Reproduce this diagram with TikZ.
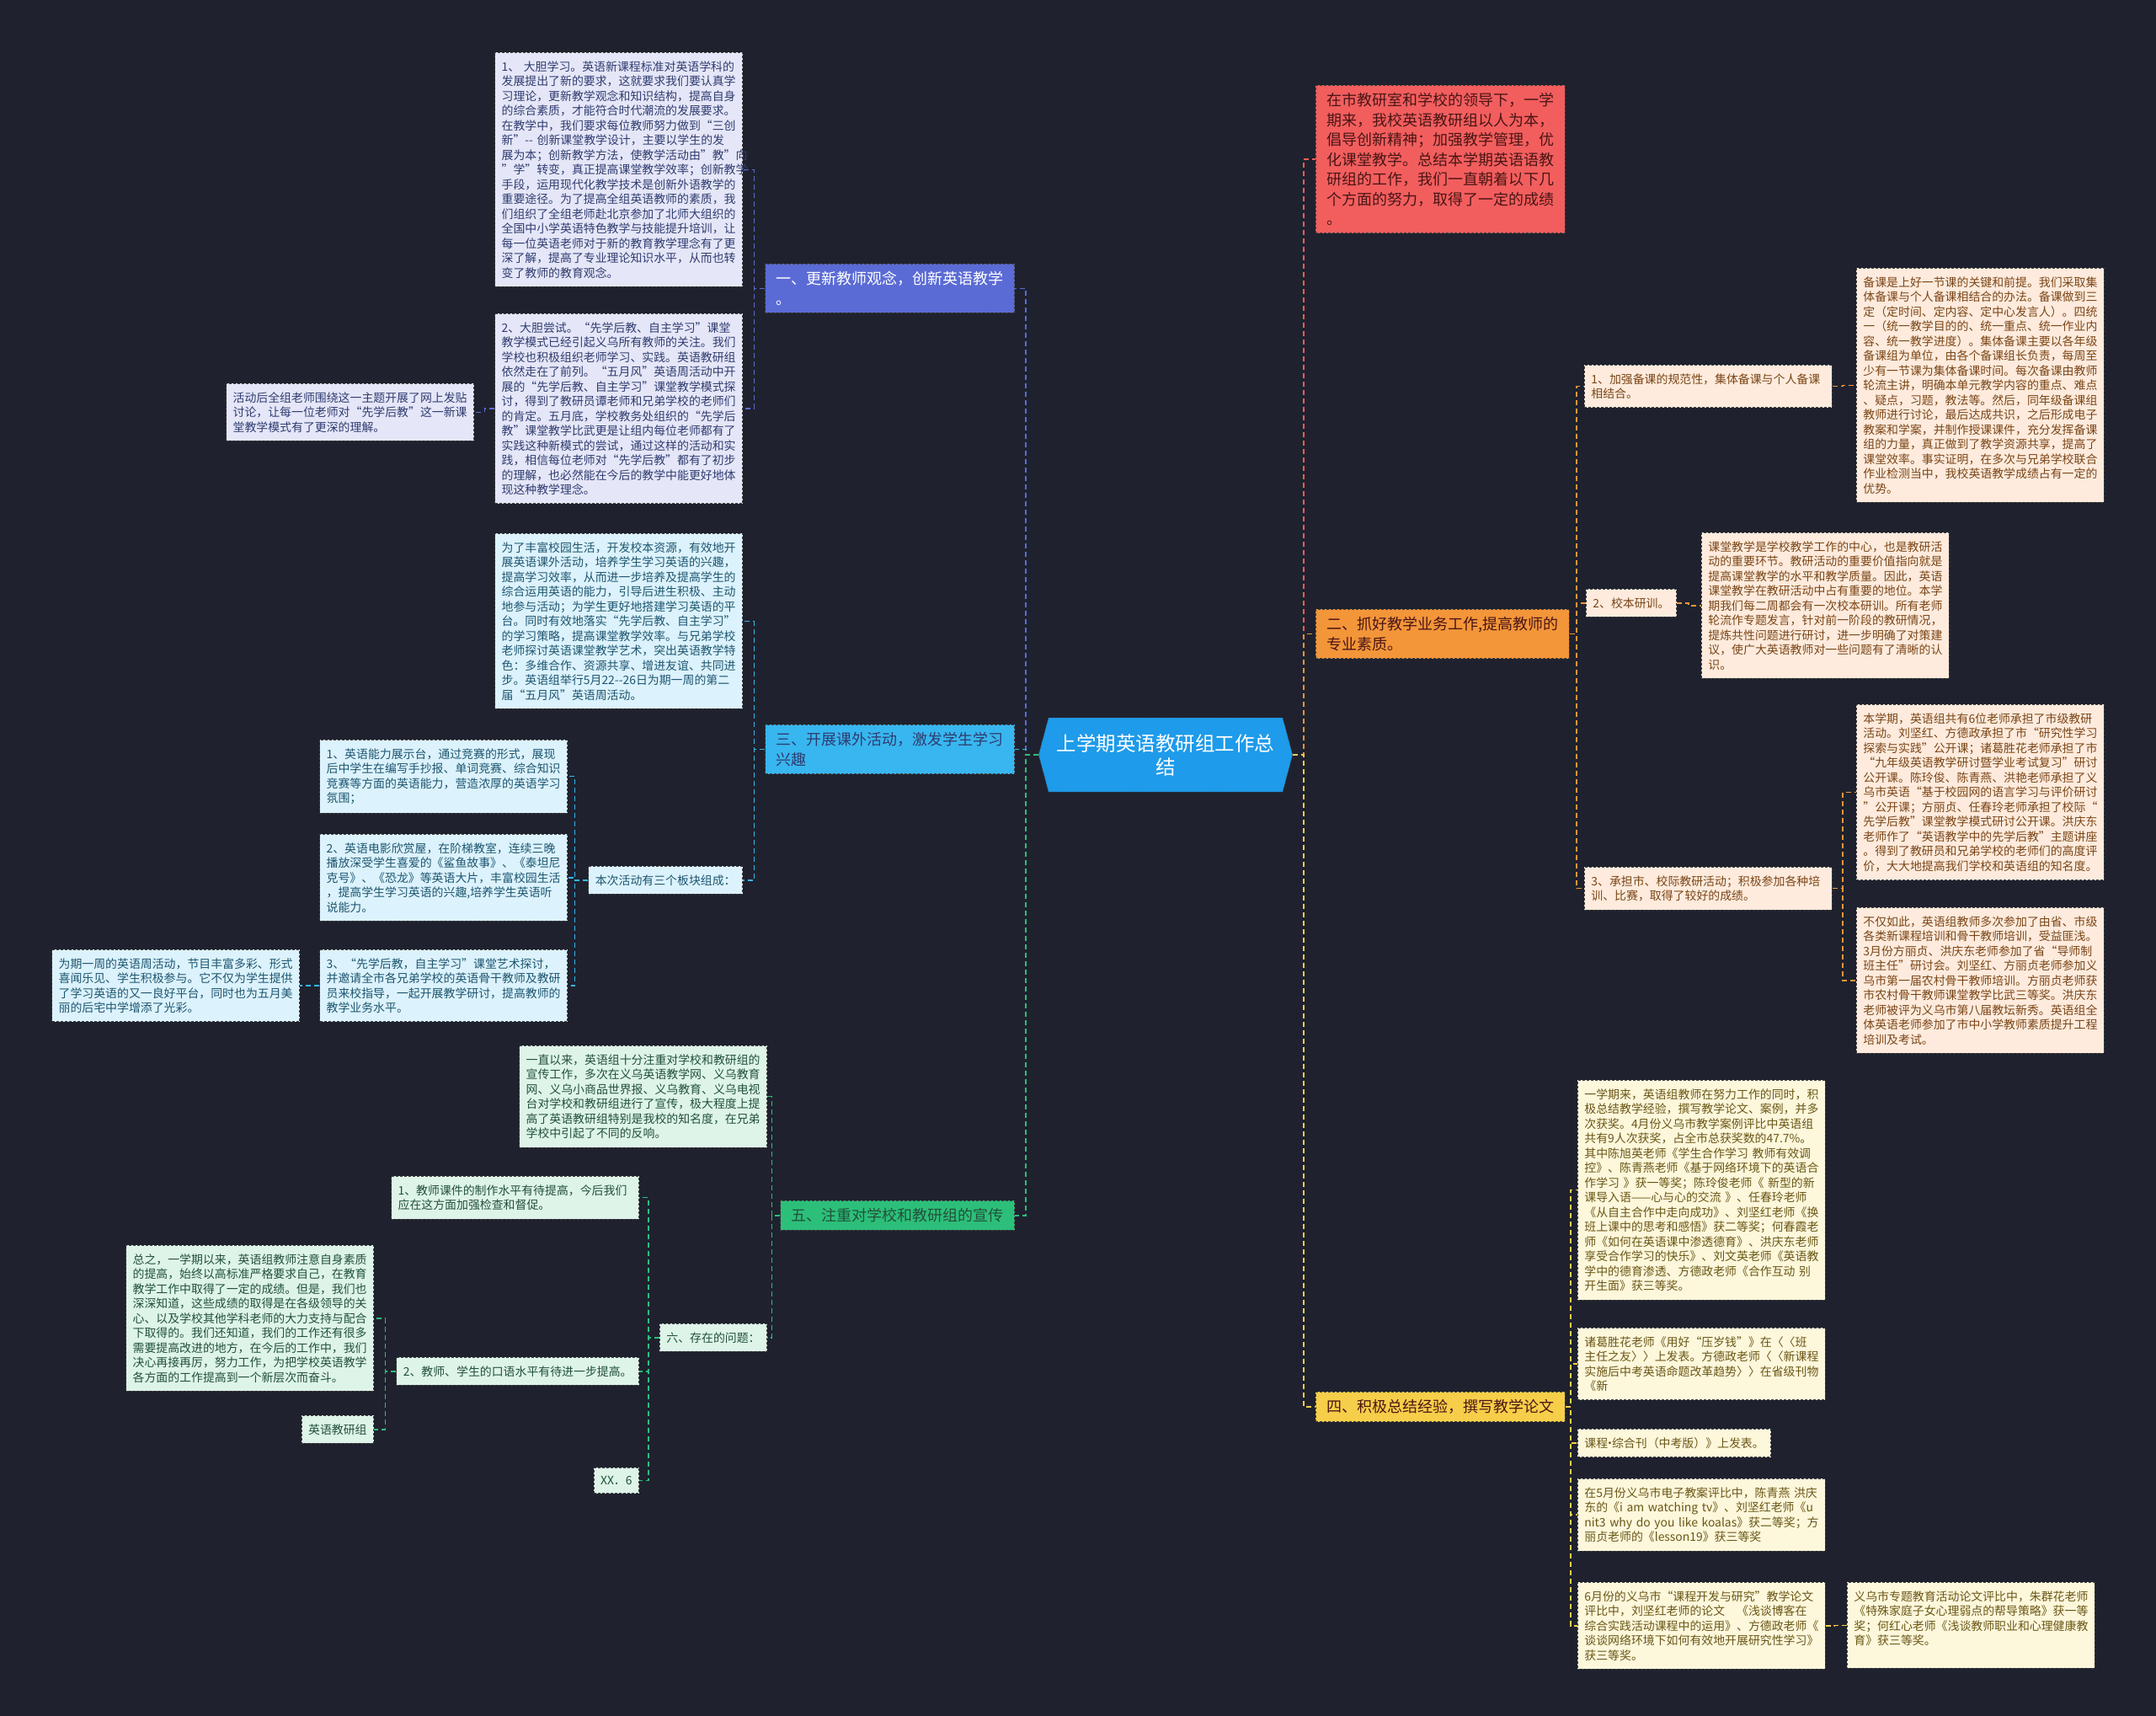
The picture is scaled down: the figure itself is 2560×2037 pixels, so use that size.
\documentclass[tikz,border=0pt]{standalone}
\usepackage{fontspec}
\setmainfont{Noto Sans CJK SC}
\usetikzlibrary{shapes.symbols}

\definecolor{bgdark}{HTML}{1F222E}
\definecolor{cblue}{HTML}{5B6BD5}
\definecolor{afill}{HTML}{E5E6F7}
\definecolor{atext}{HTML}{2F3C70}
\definecolor{ccyan}{HTML}{38B6EF}
\definecolor{bfill}{HTML}{DCF2FC}
\definecolor{btext}{HTML}{1D5670}
\definecolor{cgreen}{HTML}{2CBF7A}
\definecolor{efill}{HTML}{DEF4E9}
\definecolor{etext}{HTML}{22513A}
\definecolor{cred}{HTML}{F25E5E}
\definecolor{rtext}{HTML}{4A1515}
\definecolor{corange}{HTML}{F39539}
\definecolor{hfill}{HTML}{FEEBDD}
\definecolor{htext}{HTML}{7A4516}
\definecolor{cyellow}{HTML}{F7CE49}
\definecolor{jfill}{HTML}{FDF7DC}
\definecolor{jtext}{HTML}{6A5715}
\definecolor{ctrblue}{HTML}{1E9BEA}

\tikzset{
    box/.style={draw=black!75, dash pattern=on 3pt off 2pt, line width=0.8pt, align=left,
        inner xsep=8pt, inner ysep=10pt, font=\fontsize{13.9}{17.5}\selectfont},
    blk/.style={box, text width=278pt},
    br/.style={draw=black!75, dash pattern=on 3pt off 2pt, line width=0.8pt, align=left,
        inner xsep=13pt, inner ysep=9pt, font=\fontsize{18}{23.5}\selectfont},
    lk/.style={line width=1.4pt, dash pattern=on 6pt off 4pt},
    toL/.style={to path={-- ++(-#1,0) |- (\tikztotarget)}},
    toR/.style={to path={-- ++(#1,0) |- (\tikztotarget)}},
    abox/.style={fill=afill, text=atext},
    bbox/.style={fill=bfill, text=btext},
    ebox/.style={fill=efill, text=etext},
    hbox/.style={fill=hfill, text=htext},
    jbox/.style={fill=jfill, text=jtext}
}

\begin{document}
\begin{tikzpicture}[x=1pt, y=-1pt]
                \fill[bgdark] (0,0) rectangle (2560,2037);
                \useasboundingbox (0,0) rectangle (2560,2037);

                \node[signal, signal to=west and east, signal pointer angle=150, fill=ctrblue, draw=black!75,
                    dash pattern=on 3pt off 2pt, text=white, text width=266pt, align=center, inner xsep=6pt,
                    inner ysep=17pt, minimum height=88pt, font=\fontsize{23.5}{28}\selectfont] (ctr) at (1384,896)
                    {上学期英语教研组工作总\\结};

                \node[br, fill=cblue, text=white, anchor=north east] (br1) at (1205,313)
                    {一、更新教师观念，创新英语教学\\。};
                \node[br, fill=ccyan, text=atext, anchor=north east] (br3) at (1205,860)
                    {三、开展课外活动，激发学生学习\\兴趣};
                \node[br, fill=cgreen, text=etext, anchor=north east] (br5) at (1205,1425)
                    {五、注重对学校和教研组的宣传};
                \node[br, fill=cred, text=rtext, anchor=north west] (intro) at (1562,101)
                    {在市教研室和学校的领导下，一学\\期来，我校英语教研组以人为本，\\倡导创新精神；加强教学管理，优\\化课堂教学。总结本学期英语语教\\研组的工作，我们一直朝着以下几\\个方面的努力，取得了一定的成绩\\。};
                \node[br, fill=corange, text=rtext, anchor=north west] (br2) at (1562,723)
                    {二、抓好教学业务工作,提高教师的\\专业素质。};
                \node[br, fill=cyellow, text=rtext, anchor=north west] (br4) at (1562,1652)
                    {四、积极总结经验，撰写教学论文};

                \node[blk, abox, anchor=north east] (a1) at (882,62)
                    {1、 大胆学习。英语新课程标准对英语学科的\\发展提出了新的要求，这就要求我们要认真学\\习理论，更新教学观念和知识结构，提高自身\\的综合素质，才能符合时代潮流的发展要求。\\在教学中，我们要求每位教师努力做到“三创\\新”{-}{-} 创新课堂教学设计，主要以学生的发\\展为本；创新教学方法，使教学活动由"教"向\\"学"转变，真正提高课堂教学效率；创新教学\\手段，运用现代化教学技术是创新外语教学的\\重要途径。为了提高全组英语教师的素质，我\\们组织了全组老师赴北京参加了北师大组织的\\全国中小学英语特色教学与技能提升培训，让\\每一位英语老师对于新的教育教学理念有了更\\深了解，提高了专业理论知识水平，从而也转\\变了教师的教育观念。};
                \node[blk, abox, anchor=north east] (a2) at (882,372)
                    {2、大胆尝试。“先学后教、自主学习”课堂\\教学模式已经引起义乌所有教师的关注。我们\\学校也积极组织老师学习、实践。英语教研组\\依然走在了前列。“五月风”英语周活动中开\\展的“先学后教、自主学习”课堂教学模式探\\讨，得到了教研员谭老师和兄弟学校的老师们\\的肯定。五月底，学校教务处组织的“先学后\\教”课堂教学比武更是让组内每位老师都有了\\实践这种新模式的尝试，通过这样的活动和实\\践，相信每位老师对“先学后教”都有了初步\\的理解，也必然能在今后的教学中能更好地体\\现这种教学理念。};
                \node[blk, abox, anchor=north east] (a2n) at (563,455)
                    {活动后全组老师围绕这一主题开展了网上发贴\\讨论，让每一位老师对“先学后教”这一新课\\堂教学模式有了更深的理解。};

                \node[blk, bbox, anchor=north east] (b1) at (882,633)
                    {为了丰富校园生活，开发校本资源，有效地开\\展英语课外活动，培养学生学习英语的兴趣，\\提高学习效率，从而进一步培养及提高学生的\\综合运用英语的能力，引导后进生积极、主动\\地参与活动；为学生更好地搭建学习英语的平\\台。同时有效地落实“先学后教、自主学习”\\的学习策略，提高课堂教学效率。与兄弟学校\\老师探讨英语课堂教学艺术，突出英语教学特\\色：多维合作、资源共享、增进友谊、共同进\\步。英语组举行5月22{-}{-}26日为期一周的第二\\届“五月风”英语周活动。};
                \node[box, bbox, anchor=north east] (b2) at (882,1028)
                    {本次活动有三个板块组成：};
                \node[blk, bbox, anchor=north east] (c1) at (674,878)
                    {1、英语能力展示台，通过竞赛的形式，展现\\后中学生在编写手抄报、单词竞赛、综合知识\\竞赛等方面的英语能力，营造浓厚的英语学习\\氛围；};
                \node[blk, bbox, anchor=north east] (c2) at (674,990)
                    {2、英语电影欣赏屋，在阶梯教室，连续三晚\\播放深受学生喜爱的《鲨鱼故事》、《泰坦尼\\克号》、《恐龙》等英语大片，丰富校园生活\\，提高学生学习英语的兴趣,培养学生英语听\\说能力。};
                \node[blk, bbox, anchor=north east] (c3) at (674,1127)
                    {3、“先学后教，自主学习”课堂艺术探讨，\\并邀请全市各兄弟学校的英语骨干教师及教研\\员来校指导，一起开展教学研讨，提高教师的\\教学业务水平。};
                \node[blk, bbox, anchor=north east] (c3n) at (356,1127)
                    {为期一周的英语周活动，节目丰富多彩、形式\\喜闻乐见、学生积极参与。它不仅为学生提供\\了学习英语的又一良好平台，同时也为五月美\\丽的后宅中学增添了光彩。};

                \node[blk, ebox, anchor=north east] (e1) at (911,1241)
                    {一直以来，英语组十分注重对学校和教研组的\\宣传工作，多次在义乌英语教学网、义乌教育\\网、义乌小商品世界报、义乌教育、义乌电视\\台对学校和教研组进行了宣传，极大程度上提\\高了英语教研组特别是我校的知名度，在兄弟\\学校中引起了不同的反响。};
                \node[box, ebox, anchor=north east] (e2) at (911,1571)
                    {六、存在的问题：};
                \node[blk, ebox, anchor=north east] (f1) at (759,1396)
                    {1、教师课件的制作水平有待提高，今后我们\\应在这方面加强检查和督促。};
                \node[box, ebox, anchor=north east] (f2) at (759,1611)
                    {2、教师、学生的口语水平有待进一步提高。};
                \node[box, ebox, anchor=north east] (f3) at (759,1742)
                    {XX．6};
                \node[blk, ebox, anchor=north east] (g1) at (444,1478)
                    {总之，一学期以来，英语组教师注意自身素质\\的提高，始终以高标准严格要求自己，在教育\\教学工作中取得了一定的成绩。但是，我们也\\深深知道，这些成绩的取得是在各级领导的关\\心、以及学校其他学科老师的大力支持与配合\\下取得的。我们还知道，我们的工作还有很多\\需要提高改进的地方，在今后的工作中，我们\\决心再接再厉，努力工作，为把学校英语教学\\各方面的工作提高到一个新层次而奋斗。};
                \node[box, ebox, anchor=north east] (g2) at (444,1680)
                    {英语教研组};

                \node[blk, hbox, anchor=north west] (h1) at (1881,433)
                    {1、加强备课的规范性，集体备课与个人备课\\相结合。};
                \node[blk, hbox, anchor=north west] (h1n) at (2204,318)
                    {备课是上好一节课的关键和前提。我们采取集\\体备课与个人备课相结合的办法。备课做到三\\定（定时间、定内容、定中心发言人）。四统\\一（统一教学目的的、统一重点、统一作业内\\容、统一教学进度）。集体备课主要以各年级\\备课组为单位，由各个备课组长负责，每周至\\少有一节课为集体备课时间。每次备课由教师\\轮流主讲，明确本单元教学内容的重点、难点\\、疑点，习题，教法等。然后，同年级备课组\\教师进行讨论，最后达成共识，之后形成电子\\教案和学案，并制作授课课件，充分发挥备课\\组的力量，真正做到了教学资源共享，提高了\\课堂效率。事实证明，在多次与兄弟学校联合\\作业检测当中，我校英语教学成绩占有一定的\\优势。};
                \node[box, hbox, anchor=north west] (h2) at (1883,699)
                    {2、校本研训。};
                \node[blk, hbox, anchor=north west] (h2n) at (2020,632)
                    {课堂教学是学校教学工作的中心，也是教研活\\动的重要环节。教研活动的重要价值指向就是\\提高课堂教学的水平和教学质量。因此，英语\\课堂教学在教研活动中占有重要的地位。本学\\期我们每二周都会有一次校本研训。所有老师\\轮流作专题发言，针对前一阶段的教研情况，\\提炼共性问题进行研讨，进一步明确了对策建\\议，使广大英语教师对一些问题有了清晰的认\\识。};
                \node[blk, hbox, anchor=north west] (h3) at (1881,1029)
                    {3、承担市、校际教研活动；积极参加各种培\\训、比赛，取得了较好的成绩。};
                \node[blk, hbox, anchor=north west] (h3a) at (2204,836)
                    {本学期，英语组共有6位老师承担了市级教研\\活动。刘坚红、方德政承担了市“研究性学习\\探索与实践”公开课；诸葛胜花老师承担了市\\“九年级英语教学研讨暨学业考试复习”研讨\\公开课。陈玲俊、陈青燕、洪艳老师承担了义\\乌市英语“基于校园网的语言学习与评价研讨\\”公开课；方丽贞、任春玲老师承担了校际“\\先学后教”课堂教学模式研讨公开课。洪庆东\\老师作了“英语教学中的先学后教”主题讲座\\。得到了教研员和兄弟学校的老师们的高度评\\价，大大地提高我们学校和英语组的知名度。};
                \node[blk, hbox, anchor=north west] (h3b) at (2204,1077)
                    {不仅如此，英语组教师多次参加了由省、市级\\各类新课程培训和骨干教师培训，受益匪浅。\\3月份方丽贞、洪庆东老师参加了省“导师制\\班主任”研讨会。刘坚红、方丽贞老师参加义\\乌市第一届农村骨干教师培训。方丽贞老师获\\市农村骨干教师课堂教学比武三等奖。洪庆东\\老师被评为义乌市第八届教坛新秀。英语组全\\体英语老师参加了市中小学教师素质提升工程\\培训及考试。};

                \node[blk, jbox, anchor=north west] (j1) at (1873,1282)
                    {一学期来，英语组教师在努力工作的同时，积\\极总结教学经验，撰写教学论文、案例，并多\\次获奖。4月份义乌市教学案例评比中英语组\\共有9人次获奖，占全市总获奖数的47.7\%。\\其中陈旭英老师《学生合作学习 教师有效调\\控》、陈青燕老师《基于网络环境下的英语合\\作学习 》获一等奖；陈玲俊老师《 新型的新\\课导入语——心与心的交流 》、任春玲老师\\《从自主合作中走向成功》、刘坚红老师《换\\班上课中的思考和感悟》获二等奖；何春霞老\\师《如何在英语课中渗透德育》、洪庆东老师\\享受合作学习的快乐》、刘文英老师《英语教\\学中的德育渗透、方德政老师《合作互动 别\\开生面》获三等奖。};
                \node[blk, jbox, anchor=north west] (j2) at (1873,1576)
                    {诸葛胜花老师《用好“压岁钱”》在〈〈班\\主任之友〉〉上发表。方德政老师〈〈新课程\\实施后中考英语命题改革趋势〉〉在省级刊物\\《新};
                \node[box, jbox, anchor=north west] (j3) at (1873,1696)
                    {课程\makebox[0.35em]{·}综合刊（中考版）》上发表。};
                \node[blk, jbox, anchor=north west] (j4) at (1873,1755)
                    {\mbox{在5月份义乌市电子教案评比中，陈青燕 洪庆}\\\mbox{东的《i am watching tv》、刘坚红老师《u}\\\mbox{nit3 why do you like koalas》获二等奖；方}\\丽贞老师的《lesson19》获三等奖};
                \node[blk, jbox, anchor=north west] (j5) at (1873,1878)
                    {6月份的义乌市“课程开发与研究”教学论文\\评比中，刘坚红老师的论文　《浅谈博客在\\综合实践活动课程中的运用》、方德政老师《\\谈谈网络环境下如何有效地开展研究性学习》\\获三等奖。};
                \node[blk, jbox, anchor=north west] (j5n) at (2193,1878)
                    {义乌市专题教育活动论文评比中，朱群花老师\\《特殊家庭子女心理弱点的帮导策略》获一等\\奖；何红心老师《浅谈教师职业和心理健康教\\育》获三等奖。\\\mbox{}};

                \draw[lk, cblue] (ctr.west) to[toL=15] (br1.east);
                \draw[lk, ccyan] (ctr.west) to[toL=15] (br3.east);
                \draw[lk, cgreen] (ctr.west) to[toL=15] (br5.east);
                \draw[lk, cred] (ctr.east) to[toR=13] (intro.west);
                \draw[lk, corange] (ctr.east) to[toR=13] (br2.west);
                \draw[lk, cyellow] (ctr.east) to[toR=13] (br4.west);

                \draw[lk, cblue] (br1.west) to[toL=13] (a1.east);
                \draw[lk, cblue] (br1.west) to[toL=13] (a2.east);
                \draw[lk, cblue] (a2.west) to[toL=12] (a2n.east);

                \draw[lk, ccyan] (br3.west) to[toL=13] (b1.east);
                \draw[lk, ccyan] (br3.west) to[toL=13] (b2.east);
                \draw[lk, ccyan] (b2.west) to[toL=16] (c1.east);
                \draw[lk, ccyan] (b2.west) to[toL=16] (c2.east);
                \draw[lk, ccyan] (b2.west) to[toL=16] (c3.east);
                \draw[lk, ccyan] (c3.west) to[toL=12] (c3n.east);

                \draw[lk, cgreen] (br5.west) to[toL=10] (e1.east);
                \draw[lk, cgreen] (br5.west) to[toL=10] (e2.east);
                \draw[lk, cgreen] (e2.west) to[toL=13] (f1.east);
                \draw[lk, cgreen] (e2.west) to[toL=13] (f2.east);
                \draw[lk, cgreen] (e2.west) to[toL=13] (f3.east);
                \draw[lk, cgreen] (f2.west) to[toL=13] (g1.east);
                \draw[lk, cgreen] (f2.west) to[toL=13] (g2.east);

                \draw[lk, corange] (br2.east) to[toR=8] (h1.west);
                \draw[lk, corange] (br2.east) to[toR=8] (h2.west);
                \draw[lk, corange] (br2.east) to[toR=8] (h3.west);
                \draw[lk, corange] (h1.east) to[toR=12] (h1n.west);
                \draw[lk, corange] (h2.east) to[toR=14] (h2n.west);
                \draw[lk, corange] (h3.east) to[toR=12] (h3a.west);
                \draw[lk, corange] (h3.east) to[toR=12] (h3b.west);

                \draw[lk, cyellow] (br4.east) to[toR=6] (j1.west);
                \draw[lk, cyellow] (br4.east) to[toR=6] (j2.west);
                \draw[lk, cyellow] (br4.east) to[toR=6] (j3.west);
                \draw[lk, cyellow] (br4.east) to[toR=6] (j4.west);
                \draw[lk, cyellow] (br4.east) to[toR=6] (j5.west);
                \draw[lk, cyellow] (j5.east) to[toR=10] (j5n.west);
\end{tikzpicture}
\end{document}
